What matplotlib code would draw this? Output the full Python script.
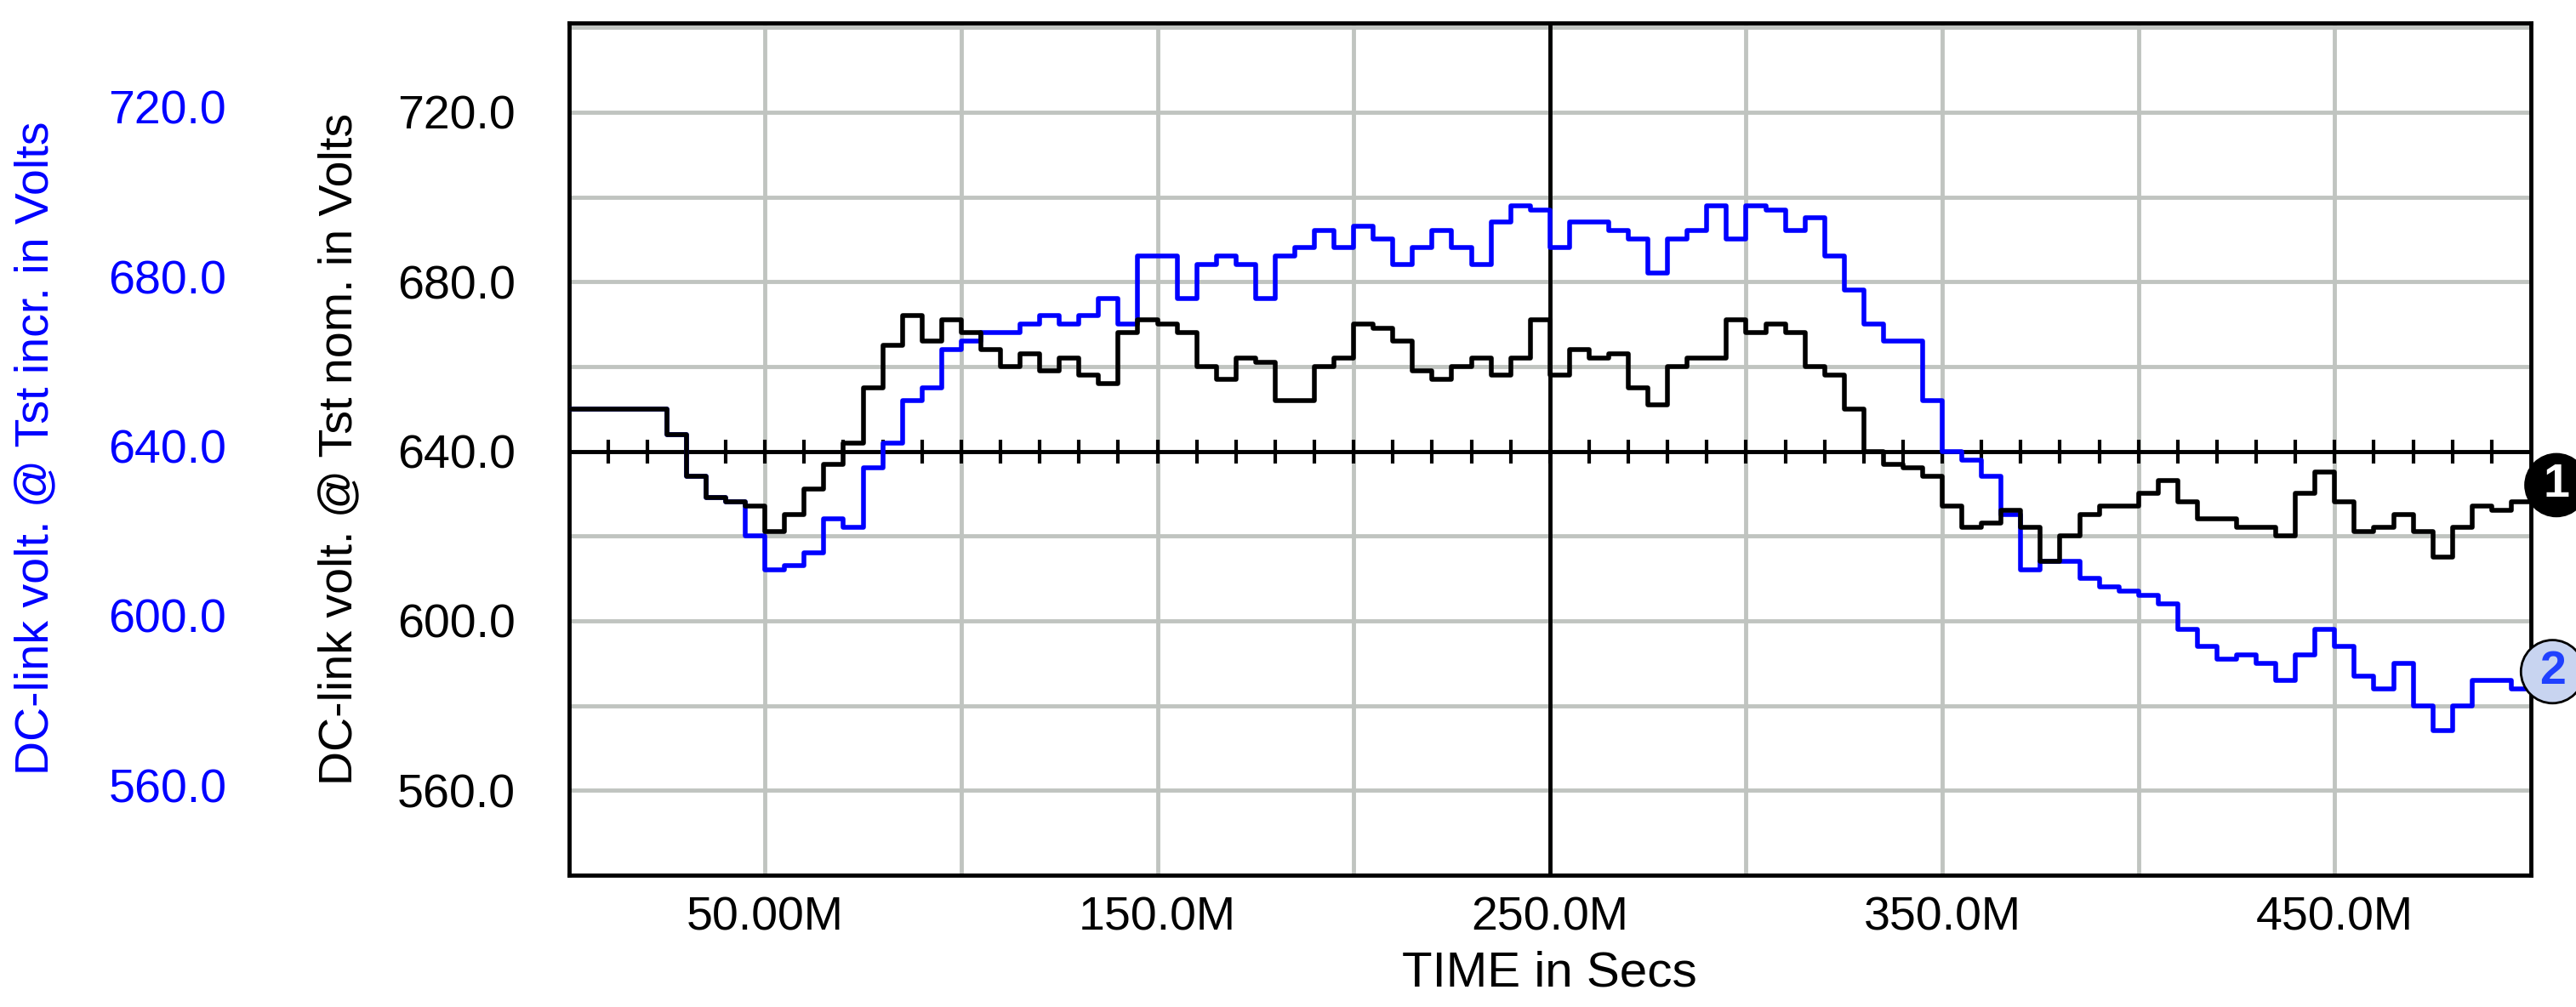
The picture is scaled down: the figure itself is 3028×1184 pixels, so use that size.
import matplotlib
matplotlib.use("Agg")
import matplotlib.pyplot as plt
import matplotlib.transforms as mtrans
import numpy as np

t_ms = list(range(0, 501, 5))
v_nom = [650,650,650,650,650,644,634,629,628,627,621,625,631,637,642,655,665,672,666,671,
         668,664,660,663,659,662,658,656,668,671,670,668,660,657,662,661,652,652,660,662,
         670,669,666,659,657,660,662,658,662,671,658,664,662,663,655,651,660,662,662,671,
         668,670,668,660,658,650,640,637,636,634,627,622,623,626,622,614,620,625,627,627,
         630,633,628,624,624,622,622,620,630,635,628,621,622,625,621,615,622,627,626,628,632]
v_incr = [650,650,650,650,650,644,634,629,628,620,612,613,616,624,622,636,642,652,655,664,
          666,668,668,670,672,670,672,676,670,686,686,676,684,686,684,676,686,688,692,688,
          693,690,684,688,692,688,684,694,698,697,688,694,694,692,690,682,690,692,698,690,
          698,697,692,695,686,678,670,666,666,652,640,638,634,625,612,614,614,610,608,607,
          606,604,598,594,591,592,590,586,592,598,594,587,584,590,580,574,580,586,586,584,586]
x_ticks = [50, 150, 250, 350, 450]
x_labels = ["50.00M", "150.0M", "250.0M", "350.0M", "450.0M"]
y_ticks = [560, 600, 640, 680, 720]

plt.rcParams['font.family'] = ['Liberation Sans', 'DejaVu Sans']
fig = plt.figure(figsize=(30.28, 11.84), dpi=100)
ax = fig.add_axes([0.2208, 0.131, 0.7617, 0.846])
ax.set_xlim(0, 500)
ax.set_ylim(540, 741)
ax.set_xticks(range(50, 500, 50), minor=True)
ax.set_xticks(x_ticks)
ax.set_xticklabels(x_labels)
ax.set_yticks(range(560, 741, 20), minor=True)
ax.set_yticks(y_ticks)
ax.set_yticklabels([f"{v:.1f}" for v in y_ticks])
ax.grid(True, which='both', color='#c0c4c0', lw=3.5)
ax.tick_params(which='both', length=0, labelsize=40, pad=18)
ax.tick_params(axis='y', pad=45)
for s in ax.spines.values():
    s.set_linewidth(3.5)
ax.axhline(640, color='black', lw=3.5, zorder=2)
ax.axvline(250, color='black', lw=3.5, zorder=2)
tk = list(range(10, 500, 10))
ax.plot(tk, [640]*len(tk), ls='none', marker='|', ms=20, mew=3, color='black', zorder=2)

ax.step(t_ms, v_incr, where='post', color='#0000ff', lw=4, zorder=3)
ax.step(t_ms, v_nom, where='post', color='black', lw=4, zorder=4)

ax.set_xlabel("TIME in Secs", fontsize=42, labelpad=8)
ax.set_ylabel("DC-link volt. @ Tst nom. in Volts", fontsize=40, labelpad=30)

tr = mtrans.blended_transform_factory(fig.transFigure, ax.transData)
for v in y_ticks:
    ax.text(0.065, v, f"{v:.1f}", transform=tr, color='#0000ff', fontsize=40,
            ha='center', va='center', clip_on=False)
fig.text(0.014, 0.555, "DC-link volt. @ Tst incr. in Volts", color='#0000ff',
         fontsize=40, rotation=90, ha='center', va='center')

bt = mtrans.blended_transform_factory(ax.transAxes, ax.transData)
ax.text(1.013, 632, "1", transform=bt,
        color='white', fontsize=40, fontweight='bold', ha='center', va='center', clip_on=False,
        bbox=dict(boxstyle='circle,pad=0.2', fc='black', ec='black'))
ax.text(1.011, 588, "2", transform=bt,
        color='#2040ff', fontsize=40, fontweight='bold', ha='center', va='center', clip_on=False,
        bbox=dict(boxstyle='circle,pad=0.2', fc='#c8d4f0', ec='black', lw=2))

fig.savefig("out.png", dpi=100)
